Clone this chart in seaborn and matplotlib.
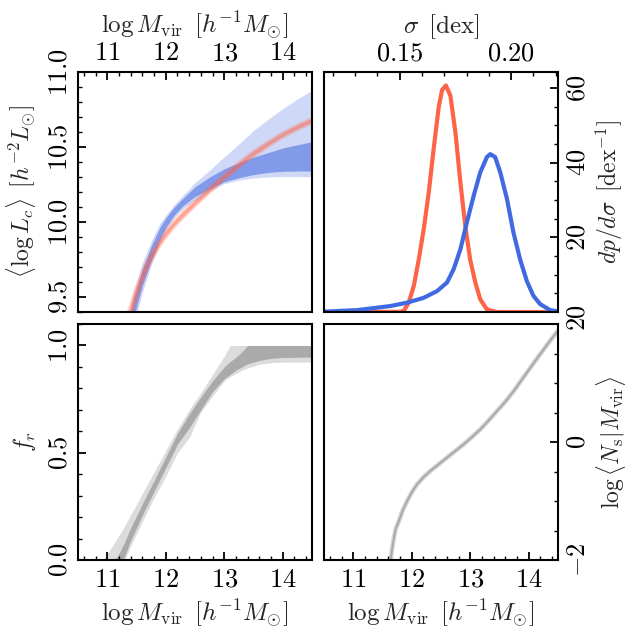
import numpy as np
import matplotlib
matplotlib.use("Agg")
import matplotlib.pyplot as plt
import seaborn as sns
from matplotlib.ticker import MultipleLocator, FormatStrFormatter

# --- top left: <log Lc> vs halo mass (two models, 68/95 bands)
mass_lc = [11.30, 11.45, 11.60, 11.75, 11.90, 12.00, 12.15, 12.30, 12.50,
           12.75, 13.00, 13.25, 13.50, 13.75, 14.00, 14.25, 14.50]
blue_in_lo = [9.085, 9.36, 9.575, 9.74, 9.885, 9.963, 10.048, 10.11, 10.17,
              10.222, 10.268, 10.295, 10.316, 10.33, 10.338, 10.34, 10.34]
blue_in_hi = [9.215, 9.48, 9.685, 9.84, 9.965, 10.027, 10.102, 10.16, 10.235,
              10.3, 10.355, 10.395, 10.433, 10.463, 10.493, 10.515, 10.535]
blue_out_lo = [9.03, 9.31, 9.53, 9.71, 9.86, 9.945, 10.032, 10.09, 10.145,
               10.205, 10.255, 10.28, 10.293, 10.30, 10.303, 10.303, 10.302]
blue_out_hi = [9.27, 9.53, 9.73, 9.87, 9.99, 10.045, 10.118, 10.18, 10.262,
               10.345, 10.435, 10.52, 10.61, 10.685, 10.756, 10.82, 10.878]
red_mid = [9.28, 9.48, 9.65, 9.775, 9.87, 9.925, 9.995, 10.055, 10.13,
           10.22, 10.305, 10.385, 10.46, 10.525, 10.585, 10.635, 10.68]
red_hw_out = [0.095, 0.08, 0.061, 0.049, 0.04, 0.038, 0.035, 0.033, 0.032,
              0.031, 0.031, 0.03, 0.029, 0.028, 0.027, 0.026, 0.026]
red_hw_in = [0.048, 0.04, 0.031, 0.025, 0.02, 0.019, 0.017, 0.017, 0.016,
             0.016, 0.015, 0.015, 0.014, 0.014, 0.013, 0.013, 0.013]

# --- top right: posterior of sigma
sigma_red = [0.116, 0.150, 0.1518, 0.154, 0.1563, 0.1585, 0.1607, 0.163,
             0.1652, 0.1675, 0.169, 0.1707, 0.1727, 0.175, 0.1772, 0.1794,
             0.1816, 0.1839, 0.1861, 0.1891, 0.1936, 0.221]
pdf_red = [0.0, 0.05, 0.3, 2.5, 7, 14, 22, 32, 43.7, 55, 59.5, 60.7, 58, 48,
           34.7, 23, 14, 7.9, 3.4, 0.7, 0.0, 0.0]
sigma_blue = [0.116, 0.1309, 0.1458, 0.1533, 0.1607, 0.1667, 0.1712, 0.1742,
              0.1772, 0.1801, 0.1831, 0.1861, 0.1891, 0.1906, 0.1928, 0.1951,
              0.1981, 0.201, 0.204, 0.207, 0.21, 0.213, 0.2175, 0.2207]
pdf_blue = [0.1, 0.5, 1.6, 2.5, 3.8, 5.6, 7.9, 11.5, 16.8, 24, 31, 37.4, 41.5,
            42.3, 41.5, 37.4, 30.3, 21.3, 14.1, 8.3, 4.3, 2.1, 0.5, 0.2]

# --- bottom left: red fraction
mass_fr = [10.9, 11.0, 11.1, 11.2, 11.3, 11.4, 11.6, 11.8, 12.0, 12.2, 12.4,
           12.6, 12.8, 13.0, 13.1, 13.2, 13.3, 13.4, 13.6, 13.8, 14.0, 14.5]
fr_in_lo = [-0.2, -0.15, -0.09, -0.04, 0.02, 0.09, 0.21, 0.32, 0.43, 0.54, 0.615,
            0.70, 0.785, 0.845, 0.865, 0.885, 0.90, 0.915, 0.93, 0.94, 0.944, 0.946]
fr_in_hi = [-0.13, -0.07, -0.01, 0.03, 0.085, 0.15, 0.262, 0.37, 0.48, 0.59, 0.68,
            0.76, 0.835, 0.90, 0.925, 0.945, 0.97, 1.0, 1.0, 1.0, 1.0, 1.0]
fr_out_lo = [-0.3, -0.22, -0.14, -0.07, 0.0, 0.065, 0.18, 0.29, 0.39, 0.50, 0.57,
             0.69, 0.765, 0.835, 0.855, 0.87, 0.885, 0.895, 0.912, 0.92, 0.922, 0.923]
fr_out_hi = [-0.01, 0.03, 0.07, 0.115, 0.16, 0.21, 0.31, 0.41, 0.51, 0.61, 0.70,
             0.78, 0.865, 0.95, 1.0, 1.0, 1.0, 1.0, 1.0, 1.0, 1.0, 1.0]

# --- bottom right: satellite occupation
mass_ns = [11.635, 11.668, 11.697, 11.725, 11.782, 11.85, 11.925, 12.01, 12.095,
           12.209, 12.323, 12.466, 12.608, 12.751, 12.893, 13.036, 13.178,
           13.321, 13.463, 13.605, 13.748, 13.89, 14.033, 14.147, 14.261,
           14.375, 14.5]
log_ns = [-2.04, -1.785, -1.616, -1.475, -1.333, -1.147, -0.994, -0.836, -0.712,
          -0.588, -0.486, -0.373, -0.26, -0.147, -0.034, 0.09, 0.22, 0.373,
          0.531, 0.689, 0.87, 1.068, 1.266, 1.424, 1.576, 1.729, 1.887]

sns.set_style("ticks")
plt.rcParams.update({
    "font.family": "serif",
    "font.serif": ["DejaVu Serif"],
    "mathtext.fontset": "cm",
    "font.size": 17,
    "axes.linewidth": 1.5,
    "axes.axisbelow": False,
    "xtick.direction": "in", "ytick.direction": "in",
    "xtick.color": "black", "ytick.color": "black",
    "xtick.major.size": 6, "ytick.major.size": 6,
    "xtick.minor.size": 3, "ytick.minor.size": 3,
    "xtick.major.width": 1.3, "ytick.major.width": 1.3,
    "xtick.minor.width": 1.0, "ytick.minor.width": 1.0,
    "xtick.major.pad": 5, "ytick.major.pad": 5,
    "xtick.labelsize": 19, "ytick.labelsize": 19,
})

fig = plt.figure(figsize=(6.28, 6.28), dpi=100)
x0, x1, x2 = 78 / 628, 312 / 628, 324 / 628
w = x1 - x0
ax_lc = fig.add_axes([x0, 1 - 312 / 628, w, 240 / 628])
ax_pdf = fig.add_axes([x2, 1 - 312 / 628, w, 240 / 628])
ax_fr = fig.add_axes([x0, 1 - 560 / 628, w, 236 / 628])
ax_ns = fig.add_axes([x2, 1 - 560 / 628, w, 236 / 628])

# which sides carry ticks: (top, bottom, left, right)
sides = {ax_lc: (True, False, True, False), ax_pdf: (True, False, False, True),
         ax_fr: (False, True, True, False), ax_ns: (False, True, False, True)}


def style_ticks(ax):
    t, b, l, rr = sides[ax]
    ax.set_axisbelow(False)
    ax.tick_params(which="both", direction="in", color="black",
                   top=t, bottom=b, left=l, right=rr,
                   labeltop=t, labelbottom=b, labelleft=l, labelright=rr)
    ax.tick_params(which="major", length=6, width=1.3, pad=5, labelsize=19)
    ax.tick_params(which="minor", length=3, width=1.0)
    ax.tick_params(axis="y", which="both", labelrotation=90)


for ax in sides:
    style_ticks(ax)

mlabel = r"$\log M_{\rm vir}\ \,[h^{-1}M_{\odot}]$"
blue = "royalblue"
red = "tomato"

# top left
ax_lc.fill_between(mass_lc, blue_out_lo, blue_out_hi, color=blue, alpha=0.25, lw=0)
ax_lc.fill_between(mass_lc, blue_in_lo, blue_in_hi, color=blue, alpha=0.55, lw=0)
r = np.array(red_mid)
ax_lc.fill_between(mass_lc, r - red_hw_out, r + red_hw_out, color=red, alpha=0.25, lw=0)
ax_lc.fill_between(mass_lc, r - red_hw_in, r + red_hw_in, color=red, alpha=0.45, lw=0)
ax_lc.set_xlim(10.5, 14.5)
ax_lc.set_ylim(9.4, 11.0)
ax_lc.xaxis.set_label_position("top")
ax_lc.set_xlabel(mlabel, labelpad=5, fontsize=18)
ax_lc.set_ylabel(r"$\langle\log L_c\rangle\ \,[h^{-2}L_{\odot}]$", labelpad=6)
ax_lc.yaxis.set_major_locator(MultipleLocator(0.5))
ax_lc.yaxis.set_minor_locator(MultipleLocator(0.1))
ax_lc.yaxis.set_major_formatter(FormatStrFormatter(r"$%.1f$"))

# top right
sns.lineplot(x=sigma_red, y=pdf_red, ax=ax_pdf, color=red, lw=3)
sns.lineplot(x=sigma_blue, y=pdf_blue, ax=ax_pdf, color=blue, lw=3)
ax_pdf.set_xlim(0.116, 0.221)
ax_pdf.set_ylim(0, 64.3)
ax_pdf.xaxis.set_label_position("top")
ax_pdf.yaxis.set_label_position("right")
ax_pdf.set_xlabel(r"$\sigma\ \,[{\rm dex}]$", labelpad=5, fontsize=18)
ax_pdf.set_ylabel(r"$dp/d\sigma\ \,[{\rm dex}^{-1}]$", labelpad=3)
ax_pdf.xaxis.set_major_locator(MultipleLocator(0.05))
ax_pdf.xaxis.set_minor_locator(MultipleLocator(0.01))
ax_pdf.xaxis.set_major_formatter(FormatStrFormatter(r"$%.2f$"))
ax_pdf.yaxis.set_major_locator(MultipleLocator(20))
ax_pdf.yaxis.set_minor_locator(MultipleLocator(5))
ax_pdf.yaxis.set_major_formatter(FormatStrFormatter(r"$%d$"))

# bottom left
ax_fr.fill_between(mass_fr, fr_out_lo, fr_out_hi, color="#dcdcdc", lw=0)
ax_fr.fill_between(mass_fr, fr_in_lo, fr_in_hi, color="#aaaaaa", lw=0)
ax_fr.set_xlim(10.5, 14.5)
ax_fr.set_ylim(0, 1.1)
ax_fr.set_xlabel(mlabel, labelpad=4, fontsize=18)
ax_fr.set_ylabel(r"$f_r$", labelpad=6)
ax_fr.yaxis.set_major_locator(MultipleLocator(0.5))
ax_fr.yaxis.set_minor_locator(MultipleLocator(0.1))
ax_fr.yaxis.set_major_formatter(FormatStrFormatter(r"$%.1f$"))

# bottom right
sns.lineplot(x=mass_ns, y=log_ns, ax=ax_ns, color="#d6d6d6", lw=3.4)
sns.lineplot(x=mass_ns, y=log_ns, ax=ax_ns, color="#a6a6a6", lw=1.3)
ax_ns.set_xlim(10.5, 14.5)
ax_ns.set_ylim(-2, 2)
ax_ns.yaxis.set_label_position("right")
ax_ns.set_xlabel(mlabel, labelpad=4, fontsize=18)
ax_ns.set_ylabel(r"$\log\langle N_{\rm s}|M_{\rm vir}\rangle$", labelpad=3)
ax_ns.yaxis.set_major_locator(MultipleLocator(2))
ax_ns.yaxis.set_minor_locator(MultipleLocator(0.5))
ax_ns.yaxis.set_major_formatter(FormatStrFormatter(r"$%d$"))

for ax in (ax_lc, ax_fr, ax_ns):
    ax.xaxis.set_major_locator(MultipleLocator(1))
    ax.xaxis.set_minor_locator(MultipleLocator(0.2))
    ax.xaxis.set_major_formatter(FormatStrFormatter(r"$%d$"))

for ax in sides:
    style_ticks(ax)
    for lab in ax.get_yticklabels():
        lab.set_verticalalignment("center")
    for s in ax.spines.values():
        s.set_visible(True)
        s.set_color("black")

fig.savefig("out.png", dpi=100)
